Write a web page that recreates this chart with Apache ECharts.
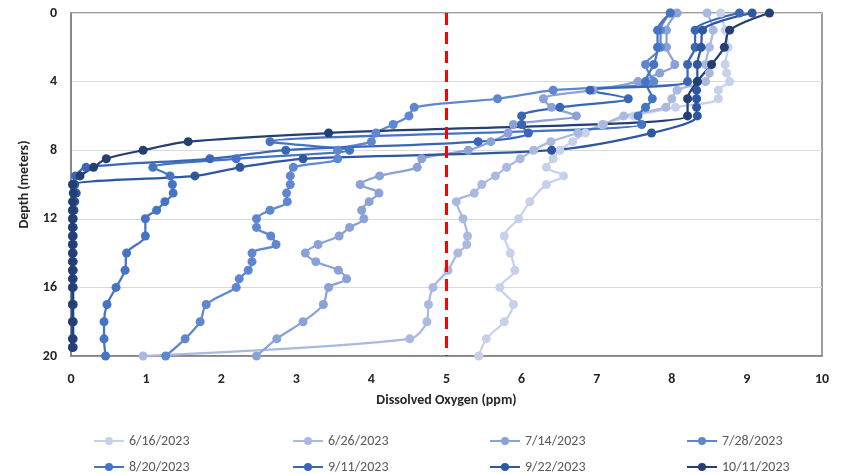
<!DOCTYPE html>
<html>
<head>
<meta charset="utf-8">
<script src="https://cdn.jsdelivr.net/npm/echarts@6/dist/echarts.min.js"></script>
<style>html,body{margin:0;padding:0;background:#fff}#c{width:846px;height:475px}</style>
</head>
<body>
<div id="c"></div>
<script>
// ---- data (depth in meters, dissolved oxygen in ppm) ----
const seriesNames = ["6/16/2023","6/26/2023","7/14/2023","7/28/2023","8/20/2023","9/11/2023","9/22/2023","10/11/2023"];

const depth_0616 = [0,1,2,3,3.5,4,4.5,5,5.5,6,6.5,7,7.5,8,8.5,9,9.5,10,11,12,13,14,15,16,17,18,19,20];
const do_0616    = [8.65,8.71,8.75,8.71,8.73,8.77,8.62,8.62,8.05,7.49,7.07,6.85,6.68,6.51,6.42,6.33,6.56,6.33,6.11,5.96,5.77,5.85,5.91,5.71,5.89,5.77,5.53,5.43];

const depth_0626 = [0,1,2,3,3.5,4,4.5,5,5.5,6,6.5,7,7.5,8,8.5,9,9.5,10,10.5,11,12,13,13.5,14,15,16,17,18,19,20];
const do_0626    = [8.47,8.55,8.5,8.45,8.5,8.45,8.07,8.0,7.92,7.36,7.09,6.75,6.39,6.16,5.98,5.80,5.65,5.47,5.37,5.13,5.22,5.28,5.27,5.15,5.02,4.82,4.76,4.74,4.51,0.96];

const depth_0714 = [0,1,2,3,3.5,4,4.5,5,5.5,6,6.5,7,7.5,8,8.5,9,9.5,10,10.5,11,11.5,12,12.5,13,13.5,14,14.5,15,15.5,16,17,18,19,20];
const do_0714    = [8.07,7.93,7.93,8.04,7.84,7.55,6.95,6.29,6.40,6.73,5.89,5.82,5.59,5.29,4.67,4.61,4.11,3.85,4.10,3.97,3.87,3.90,3.71,3.57,3.29,3.12,3.26,3.56,3.67,3.43,3.36,3.09,2.74,2.47];

const depth_0728 = [0,1,2,3,4,4.5,5,5.5,6,6.5,7,7.5,8,8.5,9,9.5,10,10.5,11,11.5,12,12.5,13,13.5,14,14.5,15,15.5,16,17,18,19,20];
const do_0728    = [7.98,7.85,7.85,7.65,7.76,6.42,5.68,4.57,4.50,4.29,4.06,4.00,3.55,3.55,2.96,2.92,2.92,2.87,2.88,2.65,2.47,2.47,2.66,2.73,2.41,2.41,2.36,2.24,2.20,1.80,1.72,1.52,1.26];

const depth_0820 = [0,1,2,3,4,5,5.5,6,6.5,7.5,8,8.5,9,9.5,10,10.5,11,11.5,12,13,14,15,16,17,18,19,20];
const do_0820    = [7.98,7.81,7.81,7.76,7.65,7.74,7.65,7.55,7.60,2.65,3.71,2.20,1.09,1.32,1.35,1.36,1.25,1.14,0.99,0.99,0.74,0.72,0.60,0.48,0.44,0.44,0.46];

const depth_0911 = [0,1,2,3,4,4.5,5,5.5,6,6.5,7,7.5,8,8.5,9,9.5,10,10.5,11,11.5,12,12.5,13,13.5,14,14.5,15,15.5,16,17,18,19,19.5];
const do_0911    = [8.90,8.31,8.31,8.21,8.21,6.91,7.42,6.51,6.00,6.00,6.09,5.42,2.86,1.85,0.20,0.06,0.03,0.04,0.03,0.02,0.02,0.02,0.02,0.02,0.02,0.02,0.02,0.02,0.02,0.02,0.02,0.02,0.02];

const depth_0922 = [0,1,2,3,4,4.5,5,5.5,6,7,8,8.5,9,9.5,10,10.5,11,11.5,12,12.5,13,13.5,14,14.5,15,15.5,16,17,18,19,19.5];
const do_0922    = [9.07,8.41,8.39,8.34,8.34,8.33,8.33,8.33,8.34,7.73,6.40,3.09,2.25,1.65,0.05,0.07,0.05,0.04,0.03,0.03,0.03,0.03,0.03,0.03,0.03,0.03,0.03,0.03,0.03,0.03,0.03];

const depth_1011 = [0,1,2,3,4,5,6,7,7.5,8,8.5,9,9.5,10,10.5,11,11.5,12,12.5,13,13.5,14,14.5,15,15.5,16,17,18,19,19.5];
const do_1011    = [9.30,8.77,8.70,8.53,8.34,8.21,8.21,3.43,1.56,0.96,0.47,0.30,0.12,0.02,0.03,0.02,0.02,0.02,0.02,0.02,0.02,0.02,0.02,0.02,0.02,0.02,0.02,0.02,0.02,0.02];

const threshold = 5;
const xTicks = [0,1,2,3,4,5,6,7,8,9,10];
const yTicks = [0,4,8,12,16,20];

// ---- chart ----
const depths = [depth_0616,depth_0626,depth_0714,depth_0728,depth_0820,depth_0911,depth_0922,depth_1011];
const dos = [do_0616,do_0626,do_0714,do_0728,do_0820,do_0911,do_0922,do_1011];
const colors = ['#c7d1ea','#a9b9e0','#8ba2d8','#5f87d1','#4674c5','#3b66b6','#2f57a0','#243f73'];
const FONT = "Carlito, 'Liberation Sans Narrow', 'Open Sans', sans-serif";

const series = seriesNames.map((n,i)=>({
  name:n, type:'line', smooth:0.3,
  data: depths[i].map((d,j)=>[dos[i][j], d]),
  symbol:'circle', symbolSize:9,
  itemStyle:{color:colors[i]},
  lineStyle:{color:colors[i], width:2.25},
  emphasis:{disabled:true}
}));
series.push({
  name:'threshold', type:'line', data:[[threshold, yTicks[0]],[threshold, yTicks[yTicks.length-1]]],
  symbol:'none', lineStyle:{color:'#ff0000', width:3, type:[12,7]}, z:10, silent:true
});

const legendPos = [[88,429],[287,429],[484,429],[681,429],[88,455],[287,455],[484,455],[681,455]];
const legends = seriesNames.map((n,i)=>({
  data:[n], left:legendPos[i][0], top:legendPos[i][1], itemWidth:30, itemHeight:10, itemGap:5,
  textStyle:{fontFamily:FONT, fontSize:14, color:'#595959'}, selectedMode:false
}));

const chart = echarts.init(document.getElementById('c'), null, {renderer:'canvas'});
chart.setOption({
  animation:false,
  grid:{left:71, right:24, top:13, bottom:119, show:true, borderColor:'#7f7f7f', borderWidth:1.5},
  legend: legends,
  xAxis:{type:'value', min:xTicks[0], max:xTicks[xTicks.length-1], interval:1,
    name:'Dissolved Oxygen (ppm)', nameLocation:'middle', nameGap:37,
    nameTextStyle:{fontFamily:FONT, fontSize:14, fontWeight:'bold', color:'#262626'},
    axisLine:{show:true, onZero:false, lineStyle:{color:'#7f7f7f', width:1.5}},
    axisTick:{show:false}, splitLine:{show:false},
    axisLabel:{fontFamily:FONT, fontSize:14, fontWeight:'bold', color:'#262626', margin:16}},
  yAxis:{type:'value', inverse:true, min:yTicks[0], max:yTicks[yTicks.length-1], interval:4,
    name:'Depth (meters)', nameLocation:'middle', nameGap:38, nameRotate:90,
    nameTextStyle:{fontFamily:FONT, fontSize:14, fontWeight:'bold', color:'#262626'},
    axisLine:{show:true, onZero:false, lineStyle:{color:'#7f7f7f', width:1.5}},
    axisTick:{show:false},
    splitLine:{show:true, lineStyle:{color:'#d9d9d9', width:1}},
    axisLabel:{fontFamily:FONT, fontSize:14, fontWeight:'bold', color:'#262626', margin:14}},
  series: series
});
</script>
</body>
</html>
